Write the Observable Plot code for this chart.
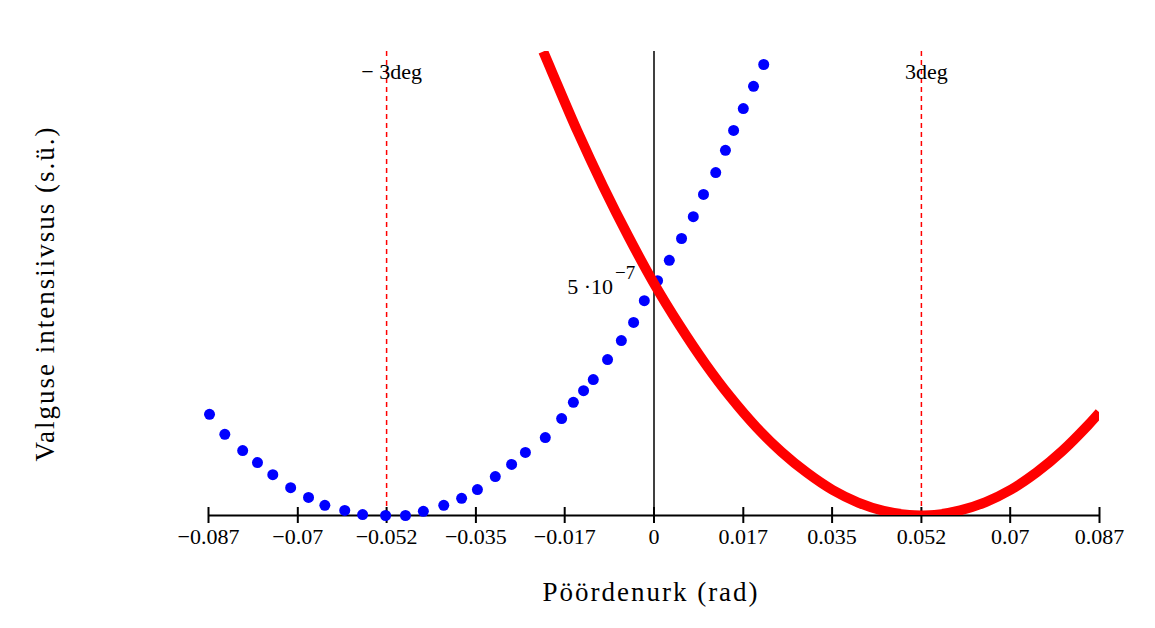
<!DOCTYPE html>
<html>
<head>
<meta charset="utf-8">
<script src="https://cdn.jsdelivr.net/npm/d3@7"></script>
<script src="https://cdn.jsdelivr.net/npm/@observablehq/plot@0.6"></script>
<style>
  html, body { margin: 0; padding: 0; background: #ffffff; }
  #chart { width: 1155px; height: 628px; }
</style>
</head>
<body>
<div id="chart"></div>
<script>
// Blue dotted series (angle in rad, intensity in units of 1e-7)
const blueX = [-0.0871,-0.0841,-0.0806,-0.0777,-0.0747,-0.0712,-0.0677,-0.0645,-0.0606,-0.0571,
  -0.0526,-0.0487,-0.0452,-0.0412,-0.0377,-0.0346,-0.0311,-0.0279,-0.0252,-0.0213,
  -0.0181,-0.0158,-0.0138,-0.0119,-0.0091,-0.0064,-0.0040,-0.0019,0.0007,0.0030,
  0.0054,0.0077,0.0097,0.0121,0.0140,0.0156,0.0175,0.0195,0.0215];
const blueY = [2.18,1.75,1.40,1.14,0.88,0.60,0.39,0.22,0.11,0.02,
  0.00,0.00,0.09,0.22,0.37,0.56,0.84,1.10,1.36,1.68,
  2.09,2.44,2.69,2.93,3.36,3.77,4.16,4.63,5.06,5.50,
  5.97,6.44,6.92,7.39,7.87,8.30,8.77,9.25,9.72];

// Red thick curve
const redX = [-0.0217,-0.020,-0.015,-0.010,-0.005,0,0.005,0.010,0.015,0.020,0.025,0.030,0.035,0.040,
  0.045,0.050,0.0524,0.055,0.060,0.065,0.070,0.075,0.080,0.085,0.0873];
const redY = [10.0,9.56,8.28,7.10,6.01,5.00,4.10,3.28,2.55,1.91,1.37,0.92,0.55,0.28,
  0.10,0.01,0.00,0.01,0.11,0.29,0.56,0.93,1.39,1.94,2.22];

// Axis ticks
const tickValues = [-0.0873,-0.0698,-0.0524,-0.0349,-0.0175,0,0.0175,0.0349,0.0524,0.0698,0.0873];
const tickLabels = ["\u22120.087","\u22120.07","\u22120.052","\u22120.035","\u22120.017","0","0.017","0.035","0.052","0.07","0.087"];

// Marker lines
const markerX = [-0.0524, 0.0524];
const markerLabels = ["\u2212 3deg", "3deg"];

const yLabelValue = 5; // 5·10^-7

const SCALE = 1e-7;
const blue = blueX.map((x, i) => ({x, y: blueY[i] * SCALE}));
const red = redX.map((x, i) => ({x, y: redY[i] * SCALE}));
const markers = markerX.map((x, i) => ({x, label: markerLabels[i]}));
const ticks = tickValues.map((x, i) => ({x, label: tickLabels[i]}));

const serif = "'Liberation Serif', 'Times New Roman', serif";

const chart = Plot.plot({
  width: 1155,
  height: 628,
  marginTop: 51,
  marginBottom: 113,
  marginLeft: 208,
  marginRight: 56,
  style: {fontFamily: serif, fontSize: "22px", color: "#000", background: "#ffffff"},
  x: {domain: [-0.0873, 0.0873], axis: null},
  y: {domain: [0, 1e-6], axis: null},
  marks: [
    Plot.ruleX(markers, {x: "x", stroke: "#ff0000", strokeWidth: 1.5, strokeDasharray: "5,4"}),
    Plot.ruleY([0], {stroke: "#000", strokeWidth: 2}),
    Plot.ruleX([0], {stroke: "#000", strokeWidth: 1.5}),
    Plot.tickX(ticks, {x: "x", stroke: "#000", strokeWidth: 2, insetTop: 456, insetBottom: -8}),
    Plot.text(ticks, {x: "x", text: "label", frameAnchor: "bottom", dy: 28, fontSize: 22, fill: "#000"}),
    Plot.text(markers, {x: "x", text: "label", frameAnchor: "top", textAnchor: "middle", dy: 12, dx: 5, fontSize: 22, fill: "#000"}),
    Plot.text([yLabelValue], {x: 0, y: d => d * SCALE, text: d => d + " \u00b710", textAnchor: "end", dx: -41, dy: 3, fontSize: 22, fill: "#000"}),
    Plot.text([yLabelValue], {x: 0, y: d => d * SCALE, text: () => "\u22127", textAnchor: "start", dx: -39, dy: -11, fontSize: 19, fill: "#000"}),
    Plot.dot(blue, {x: "x", y: "y", r: 5.5, fill: "#0000ff", stroke: "none"}),
    Plot.line(red, {x: "x", y: "y", stroke: "#ff0000", strokeWidth: 10, curve: "catmull-rom", clip: true, strokeLinecap: "butt"}),
    Plot.text(["P\u00f6\u00f6rdenurk (rad)"], {frameAnchor: "bottom", textAnchor: "middle", text: d => d, dy: 85, dx: -3, fontSize: 27, fill: "#000"}),
    Plot.text(["Valguse intensiivsus (s.\u00fc.)"], {frameAnchor: "left", textAnchor: "middle", text: d => d, rotate: -90, dx: -163, dy: 10, fontSize: 27, fill: "#000"})
  ]
});
chart.querySelectorAll("text").forEach(t => {
  const s = t.textContent;
  if (s.startsWith("P\u00f6\u00f6rdenurk") || s.startsWith("Valguse")) t.setAttribute("letter-spacing", "2");
});
document.getElementById("chart").appendChild(chart);
</script>
</body>
</html>
